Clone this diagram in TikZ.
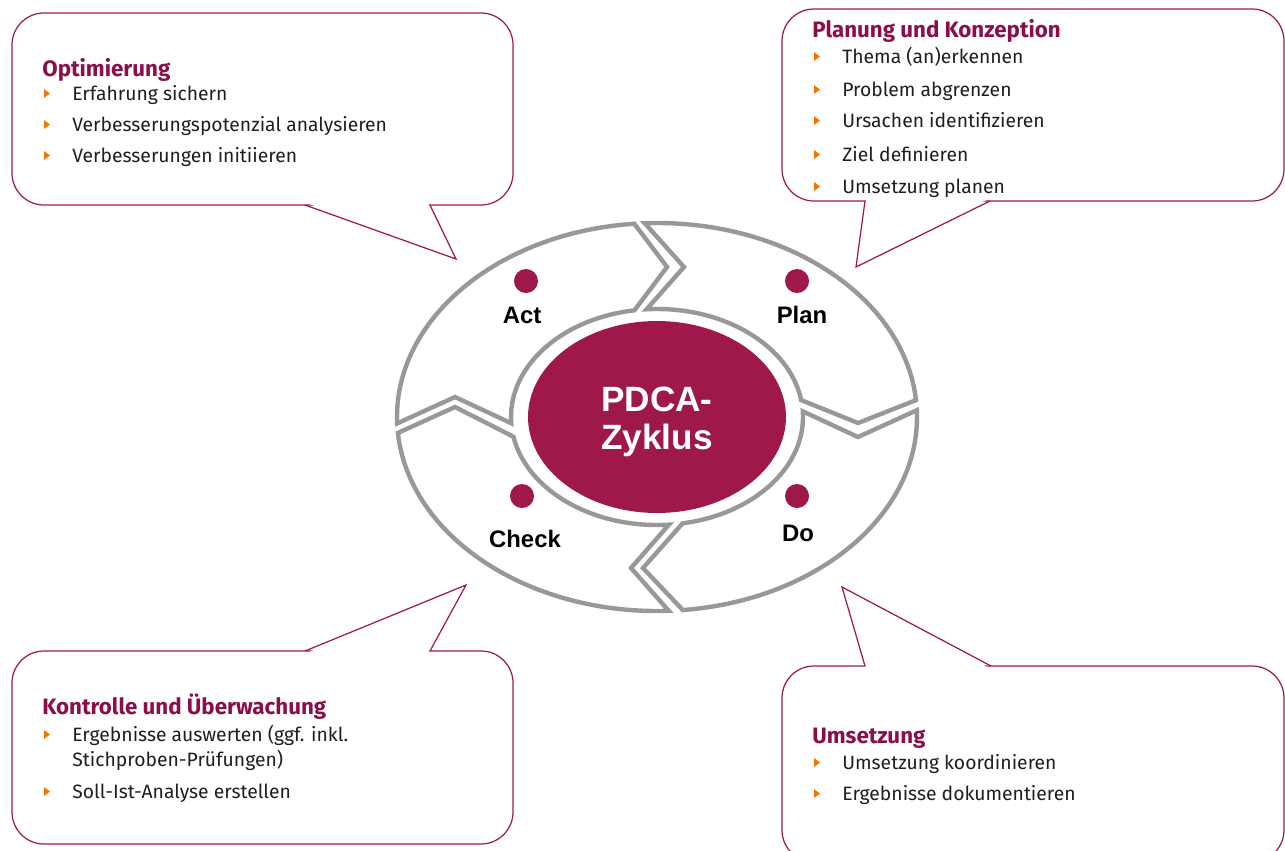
\documentclass[tikz,border=0pt]{standalone}
\usepackage{fontspec}
\setmainfont{Fira Sans}
\newfontfamily\arialfont{Liberation Sans}
\usetikzlibrary{shapes.geometric}
\definecolor{pdcapurple}{RGB}{158,24,76}
\definecolor{titlepurple}{RGB}{140,14,72}
\definecolor{ringgray}{RGB}{152,152,152}
\definecolor{bulletorange}{RGB}{240,118,0}
\definecolor{textblack}{RGB}{30,30,30}
\tikzset{
 ring/.style={draw=ringgray,line width=2.5pt,fill=white,line join=miter},
 bubble/.style={draw=pdcapurple,line width=0.7pt,rounded corners=0.64cm},
 tail/.style={draw=pdcapurple,line width=0.7pt},
 core/.style={ellipse,fill=pdcapurple,minimum width=5.16cm,minimum height=3.84cm,inner sep=0pt},
 coretext/.style={align=center,text=white,inner sep=0pt,font=\arialfont\bfseries\fontsize{20}{21.8}\selectfont},
 dot/.style={circle,fill=pdcapurple,minimum size=0.48cm,inner sep=0pt},
 phase/.style={inner sep=0pt,font=\arialfont\bfseries\fontsize{13.6}{15}\selectfont},
 heading/.style={anchor=base west,inner sep=0pt,text=titlepurple,font=\bfseries\fontsize{12.7}{15}\selectfont},
 item/.style={anchor=base west,inner sep=0pt,text=textblack,font=\fontsize{11}{13}\selectfont}
}
\begin{document}
\begin{tikzpicture}[x=0.02cm,y=-0.02cm]
 \useasboundingbox (0,0) rectangle (1285,850);
 \clip (0,0) rectangle (1285,850);
 % Sprechblasen
 \draw[bubble] (12,13) rectangle (513,205);
 \fill[white] (307,203) -- (456,259) -- (428,203) -- cycle;
 \draw[tail] (305,205) -- (456,259) -- (430,205);
 \draw[bubble] (782,9) rectangle (1284,201);
 \fill[white] (866,199) -- (856,267) -- (988,199) -- cycle;
 \draw[tail] (865,201) -- (856,267) -- (990,201);
 \draw[bubble] (12,651) rectangle (513,844);
 \fill[white] (307,653) -- (466,585) -- (428,653) -- cycle;
 \draw[tail] (305,651) -- (466,585) -- (430,651);
 \draw[bubble] (782,666) rectangle (1284,862);
 \fill[white] (866,668) -- (842,587) -- (989,668) -- cycle;
 \draw[tail] (865,666) -- (842,587) -- (991,666);
 % Texte
 \node[heading] (optitle) at (42,76) {Optimierung};
 \foreach \y/\t [count=\i] in {100/Erfahrung sichern,131/Verbesserungspotenzial analysieren,162/Verbesserungen initiieren}{
  \node[item] (opt\i) at (72,\y) {\t};
  \fill[bulletorange] (44,\y-11) -- (50,\y-6.5) -- (44,\y-2) -- cycle;
 }
 \node[heading] (plantitle) at (812,37) {Planung und Konzeption};
 \foreach \y/\t [count=\i] in {63/Thema (an)erkennen,96/Problem abgrenzen,127/Ursachen identifizieren,161/Ziel definieren,193/Umsetzung planen}{
  \node[item] (plan\i) at (842,\y) {\t};
  \fill[bulletorange] (814,\y-11) -- (820,\y-6.5) -- (814,\y-2) -- cycle;
 }
 \node[heading] (chktitle) at (42,714) {Kontrolle und Überwachung};
 \node[item] (chk1) at (72,741) {Ergebnisse auswerten (ggf. inkl.};
 \node[item] (chk1b) at (72,766) {Stichproben-Prüfungen)};
 \node[item] (chk2) at (72,798) {Soll-Ist-Analyse erstellen};
 \foreach \y in {741,798}
  \fill[bulletorange] (44,\y-11) -- (50,\y-6.5) -- (44,\y-2) -- cycle;
 \node[heading] (doTitle) at (812,743) {Umsetzung};
 \foreach \y/\t [count=\i] in {769/Umsetzung koordinieren,800/Ergebnisse dokumentieren}{
  \node[item] (do\i) at (842,\y) {\t};
  \fill[bulletorange] (814,\y-11) -- (820,\y-6.5) -- (814,\y-2) -- cycle;
 }
 % Zyklus
 \coordinate (c) at (657,417);
 \draw[ring] ([shift={(c)}]-181.9:260 and 194) arc[start angle=-181.9,end angle=-95,x radius=260,y radius=194] -- (667,267) -- ([shift={(c)}]-98.9:146 and 108) arc[start angle=-98.9,end angle=-183.3,x radius=146,y radius=108] -- (455,397) -- cycle;
 \draw[ring] ([shift={(c)}]-92.7:260 and 194) arc[start angle=-92.7,end angle=-5,x radius=260,y radius=194] -- (858,423) -- ([shift={(c)}]-9:146 and 108) arc[start angle=-9,end angle=-94.1,x radius=146,y radius=108] -- (684,267) -- cycle;
 \draw[ring] ([shift={(c)}]-2:260 and 194) arc[start angle=-2,end angle=84.3,x radius=260,y radius=194] -- (643,568) -- ([shift={(c)}]79.9:146 and 108) arc[start angle=79.9,end angle=-3,x radius=146,y radius=108] -- (858,437) -- cycle;
 \draw[ring] ([shift={(c)}]87.4:260 and 194) arc[start angle=87.4,end angle=175.3,x radius=260,y radius=194] -- (455,407) -- ([shift={(c)}]169.5:146 and 108) arc[start angle=169.5,end angle=85.3,x radius=146,y radius=108] -- (631,568) -- cycle;
 \node[core] (pdca) at (c) {};
 \node[coretext] (pdcatxt) at (657,422) {PDCA-\\Zyklus};
 \foreach \n/\x/\y in {act/526/281,plan/797/281,check/522/496,do/797/496}
  \node[dot] (\n dot) at (\x,\y) {};
 \node[phase] (act) at (522,315) {Act};
 \node[phase] (plan) at (802,315) {Plan};
 \node[phase] (check) at (525,539) {Check};
 \node[phase] (do) at (798,533) {Do};
\end{tikzpicture}
\end{document}
